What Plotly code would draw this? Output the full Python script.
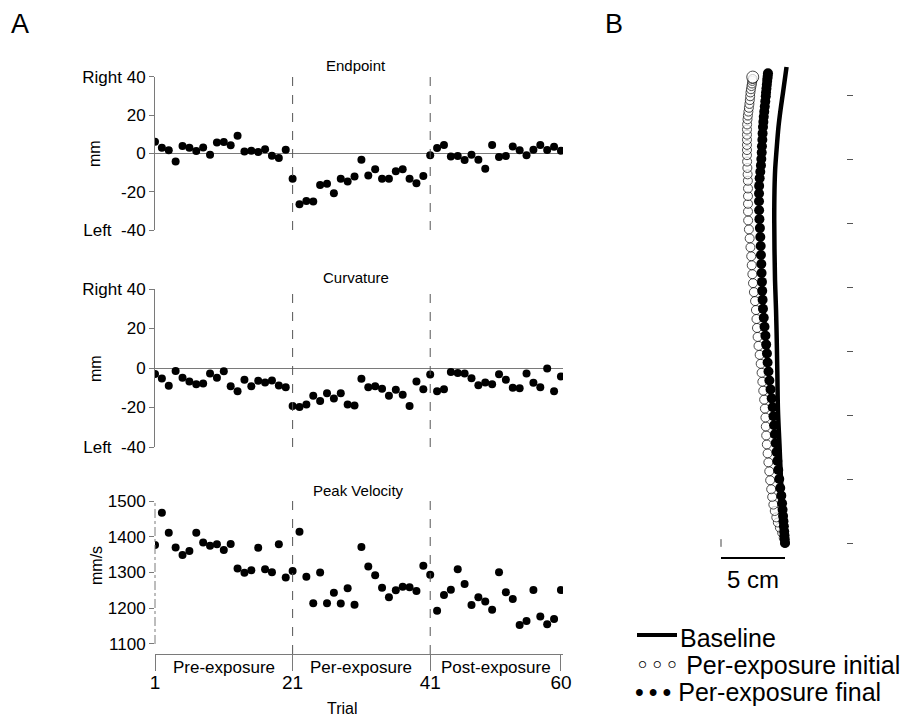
import plotly.graph_objects as go

# ---------------- data ----------------
trials = list(range(1, 61))
phase_boundaries = [21, 41]
phase_labels = ["Pre-exposure", "Per-exposure", "Post-exposure"]
phase_ticks = [1, 21, 41, 60]

endpoint_mm = [6.1, 2.9, 1.6, -4.2, 3.8, 2.9, 1.2, 3.1, -0.7, 5.7,
               5.9, 4.2, 9.2, 1.0, 1.4, 0.7, 2.1, -1.2, -2.4, 1.9,
               -13.2, -26.5, -24.9, -25.1, -16.5, -15.8, -20.8, -13.3, -14.7, -12.1,
               -3.3, -11.6, -8.3, -13.2, -13.2, -9.4, -8.3, -13.2, -15.6, -11.8,
               -1.0, 2.8, 4.3, -1.6, -1.4, -3.5, -0.7, -3.3, -8.1, 4.3,
               -1.9, -1.4, 3.6, 1.6, -1.0, 1.9, 4.3, 1.7, 3.5, 1.4]

curvature_mm = [-3.0, -5.3, -9.0, -1.5, -5.0, -6.8, -8.2, -7.8, -2.8, -5.0,
                -1.7, -9.3, -11.8, -6.0, -9.2, -6.5, -7.3, -6.3, -8.8, -9.8,
                -19.3, -19.7, -18.5, -14.0, -16.7, -12.8, -15.5, -12.8, -18.5, -19.0,
                -5.5, -9.8, -9.2, -10.5, -14.0, -11.0, -13.5, -19.3, -6.8, -10.8,
                -3.3, -11.8, -10.7, -2.0, -2.5, -2.8, -5.2, -8.7, -7.3, -8.2,
                -3.2, -6.0, -10.0, -10.3, -2.8, -7.5, -9.8, -0.2, -11.8, -4.3]

peak_velocity = [1377, 1467, 1411, 1370, 1349, 1360, 1411, 1384, 1375, 1379,
                 1363, 1380, 1311, 1299, 1306, 1369, 1309, 1301, 1379, 1286,
                 1304, 1414, 1288, 1214, 1300, 1214, 1243, 1213, 1256, 1210,
                 1371, 1317, 1292, 1257, 1231, 1250, 1260, 1259, 1248, 1319,
                 1294, 1193, 1237, 1252, 1309, 1268, 1209, 1231, 1219, 1196,
                 1301, 1245, 1226, 1153, 1164, 1251, 1177, 1155, 1170, 1251]

lat_ticks = [40, 20, 0, -20, -40]
lat_ticktext = ["Right 40", "20", "0", "-20", "Left\u00a0\u00a0-40"]
vel_ticks = [1100, 1200, 1300, 1400, 1500]

# Panel B trajectories (cm; x lateral, y forward from start)
baseline_x = [0.00, -0.16, -0.31, -0.43, -0.55, -0.59, -0.63, -0.70, -0.78, -0.82,
              -0.84, -0.82, -0.77, -0.66, -0.51, -0.35, -0.16, 0.12]
baseline_y = [0.0, 2.58, 4.92, 7.66, 10.39, 12.73, 15.08, 18.2, 20.55, 22.89,
              25.23, 27.58, 29.14, 30.7, 32.5, 33.83, 35.16, 37.19]

initial_y = [0.0, 0.4, 0.8, 1.2, 1.6, 2.0, 2.5, 3.0, 3.6, 4.2, 4.9, 5.6, 6.3, 7.0, 7.7,
             8.4, 9.1, 9.8, 10.5, 11.2, 11.9, 12.6, 13.3, 14.0, 14.7, 15.4, 16.1, 16.8,
             17.5, 18.2, 18.9, 19.6, 20.3, 21.0, 21.7, 22.4, 23.1, 23.8, 24.5, 25.2,
             25.9, 26.5, 27.1, 27.7, 28.3, 28.8, 29.3, 29.8, 30.3, 30.7, 31.1, 31.5,
             31.9, 32.3, 32.7, 33.1, 33.4, 33.7, 34.0, 34.3, 34.6, 34.9, 35.2, 35.45,
             35.7, 35.9, 36.1, 36.25, 36.4]
initial_x = [0.00, -0.10, -0.22, -0.40, -0.56, -0.68, -0.80, -0.91, -1.00, -1.08, -1.16,
             -1.23, -1.30, -1.36, -1.42, -1.47, -1.50, -1.53, -1.57, -1.63, -1.70, -1.77,
             -1.83, -1.90, -1.98, -2.07, -2.14, -2.19, -2.23, -2.27, -2.34, -2.43, -2.50,
             -2.55, -2.60, -2.64, -2.70, -2.76, -2.82, -2.88, -2.89, -2.89, -2.89, -2.89,
             -2.90, -2.92, -2.94, -2.96, -2.97, -2.97, -2.97, -2.97, -2.97, -2.97, -2.96,
             -2.93, -2.90, -2.86, -2.82, -2.78, -2.75, -2.72, -2.70, -2.66, -2.62, -2.58,
             -2.55, -2.53, -2.52]

final_y = [0.0, 0.3, 0.6, 0.9, 1.3, 1.7, 2.1, 2.6, 3.1, 3.7, 4.3, 5.0, 5.7, 6.4, 7.1,
           7.8, 8.5, 9.2, 9.9, 10.6, 11.3, 12.0, 12.7, 13.4, 14.1, 14.8, 15.5, 16.2,
           16.9, 17.6, 18.3, 19.0, 19.7, 20.4, 21.1, 21.8, 22.5, 23.2, 23.9, 24.6,
           25.3, 26.0, 26.7, 27.3, 27.9, 28.5, 29.0, 29.5, 30.0, 30.5, 31.0, 31.5,
           32.0, 32.5, 32.9, 33.3, 33.7, 34.1, 34.5, 34.9, 35.2, 35.5, 35.8, 36.1,
           36.3, 36.5, 36.7]
final_x = [0.00, -0.02, -0.04, -0.06, -0.09, -0.12, -0.15, -0.19, -0.23, -0.29, -0.37,
           -0.45, -0.53, -0.60, -0.66, -0.72, -0.79, -0.85, -0.90, -0.96, -1.04, -1.13,
           -1.22, -1.29, -1.36, -1.41, -1.47, -1.53, -1.60, -1.66, -1.72, -1.75, -1.78,
           -1.80, -1.83, -1.85, -1.88, -1.90, -1.93, -1.96, -2.00, -2.02, -2.03, -2.03,
           -2.02, -1.98, -1.93, -1.88, -1.85, -1.82, -1.80, -1.77, -1.75, -1.72, -1.69,
           -1.66, -1.62, -1.58, -1.54, -1.50, -1.48, -1.45, -1.42, -1.39, -1.37, -1.35,
           -1.33]

scale_bar_cm = 5
forward_ticks_cm = [0, 5, 10, 15, 20, 25, 30, 35]
legend_labels = ["Baseline", "Per-exposure initial", "Per-exposure final"]

# ---------------- figure ----------------
W, H = 915, 719
FONT = "Arial, Liberation Sans, sans-serif"
GRAY = "#7a7a7a"

def px_x(p):
    return p / W

def px_y(p):
    return 1 - p / H

fig = go.Figure()

dot = dict(color="black", size=8)
fig.add_trace(go.Scatter(x=trials, y=endpoint_mm, mode="markers", marker=dot,
                         xaxis="x", yaxis="y", showlegend=False))
fig.add_trace(go.Scatter(x=trials, y=curvature_mm, mode="markers", marker=dot,
                         xaxis="x2", yaxis="y2", showlegend=False))
fig.add_trace(go.Scatter(x=trials, y=peak_velocity, mode="markers", marker=dot,
                         xaxis="x3", yaxis="y3", showlegend=False))

# Panel B
fig.add_trace(go.Scatter(x=baseline_x, y=baseline_y, mode="lines",
                         line=dict(color="black", width=4.5, shape="spline"),
                         name=legend_labels[0], xaxis="x4", yaxis="y4", showlegend=False))
init_sizes = [9] * (len(initial_x) - 1) + [12]
fig.add_trace(go.Scatter(x=initial_x, y=initial_y, mode="markers",
                         marker=dict(color="white", size=init_sizes,
                                     line=dict(color="black", width=1)),
                         name=legend_labels[1], xaxis="x4", yaxis="y4", showlegend=False))
fig.add_trace(go.Scatter(x=final_x, y=final_y, mode="markers",
                         marker=dict(color="black", size=10, line=dict(width=0)),
                         name=legend_labels[2], xaxis="x4", yaxis="y4", showlegend=False))

xdomA = [px_x(155), px_x(563)]
xrange_A = [1, 60.3]
tickfont = dict(family=FONT, size=17, color="black")

common_x = dict(domain=xdomA, range=xrange_A, showgrid=False, zeroline=False,
                showline=False, showticklabels=False, ticks="")
lat_y = dict(range=[-40, 40], tickvals=lat_ticks, ticktext=lat_ticktext,
             showgrid=False, zeroline=True, zerolinecolor=GRAY, zerolinewidth=1,
             showline=True, linecolor=GRAY, linewidth=1, ticks="outside",
             ticklen=5, tickcolor=GRAY, tickfont=tickfont, automargin=False)

fig.update_layout(
    width=W, height=H, autosize=False,
    margin=dict(l=0, r=0, t=0, b=0, pad=0, autoexpand=False),
    paper_bgcolor="white", plot_bgcolor="rgba(0,0,0,0)",
    font=dict(family=FONT, color="black"),
    showlegend=False,
    xaxis=dict(**common_x, anchor="y"),
    yaxis=dict(**lat_y, domain=[px_y(230), px_y(76.7)], anchor="x"),
    xaxis2=dict(**common_x, anchor="y2"),
    yaxis2=dict(**lat_y, domain=[px_y(447), px_y(289)], anchor="x2"),
    xaxis3=dict(domain=xdomA, range=xrange_A, anchor="y3", showgrid=False,
                zeroline=False, showline=True, linecolor=GRAY, linewidth=1,
                tickvals=phase_ticks, ticks="outside", ticklen=16, automargin=False,
                ticklabelstandoff=-5,
                tickcolor=GRAY, tickfont=dict(family=FONT, size=19, color="black")),
    yaxis3=dict(domain=[px_y(654), px_y(501)], range=[1072, 1500], anchor="x3",
                tickvals=vel_ticks, showgrid=False, zeroline=False, showline=False,
                ticks="outside", ticklen=5, tickcolor=GRAY, tickfont=tickfont,
                automargin=False),
    xaxis4=dict(domain=[px_x(708.2), px_x(861.8)], range=[-6, 6], anchor="y4",
                visible=False),
    yaxis4=dict(domain=[px_y(581.4), px_y(56.6)], range=[-3, 38], anchor="free",
                position=px_x(845.5), side="right", showgrid=False, zeroline=False,
                showline=False, tickvals=forward_ticks_cm, ticks="outside",
                ticklen=6, tickcolor="#555555", showticklabels=False, automargin=False),
)

shapes = []
# phase boundary dashed lines
for xa, ya in [("x", "y"), ("x2", "y2"), ("x3", "y3")]:
    for b in phase_boundaries:
        shapes.append(dict(type="line", xref=xa, yref=ya + " domain",
                           x0=b, x1=b, y0=0, y1=1,
                           line=dict(color="#555555", width=1, dash="dash")))
# velocity y axis line (dash-dot)
shapes.append(dict(type="line", xref="x3 domain", yref="y3", x0=0, x1=0,
                   y0=vel_ticks[0], y1=vel_ticks[-1],
                   line=dict(color=GRAY, width=1, dash="dashdot")))
# scale bar
shapes.append(dict(type="line", xref="x4", yref="y4", x0=-scale_bar_cm, x1=0,
                   y0=-1.17, y1=-1.17, line=dict(color="black", width=2)))
shapes.append(dict(type="line", xref="x4", yref="y4", x0=-scale_bar_cm, x1=-scale_bar_cm,
                   y0=-0.3, y1=0.3, line=dict(color="#444444", width=1)))
# legend key for the baseline line
shapes.append(dict(type="line", xref="paper", yref="paper",
                   x0=px_x(637), x1=px_x(677), y0=px_y(635), y1=px_y(635),
                   line=dict(color="black", width=4)))
fig.update_layout(shapes=shapes)

ann = []
def text(x, y, s, size, xref="paper", yref="paper", xanchor="center",
         yanchor="middle", **kw):
    ann.append(dict(x=x, y=y, text=s, xref=xref, yref=yref, showarrow=False,
                    xanchor=xanchor, yanchor=yanchor,
                    font=dict(family=FONT, size=size, color="black"), **kw))

text(px_x(20), px_y(24), "A", 27)
text(px_x(614), px_y(24), "B", 27)
text(px_x(356), px_y(66), "Endpoint", 15)
text(px_x(356), px_y(277), "Curvature", 15)
text(px_x(358), px_y(490), "Peak Velocity", 15)
text(px_x(95), px_y(154), "mm", 16, textangle=-90)
text(px_x(95), px_y(369), "mm", 16, textangle=-90)
text(px_x(96), px_y(566), "mm/s", 16, textangle=-90)
bounds = phase_ticks
for i, lab in enumerate(phase_labels):
    text((bounds[i] + bounds[i + 1]) / 2, px_y(667), lab, 17, xref="x3")
text(px_x(342), px_y(708), "Trial", 16)
text(-scale_bar_cm / 2, -2.85, "5 cm", 24, xref="x4", yref="y4")

# legend (keys + labels)
text(px_x(678), px_y(638), legend_labels[0], 25, xanchor="left")
text(px_x(633), px_y(665),
     "<span style='font-family:DejaVu Sans'>\u25e6\u25e6\u25e6</span> " + legend_labels[1],
     25, xanchor="left")
text(px_x(633), px_y(692),
     "\u2022\u2009\u2022\u2009\u2022 " + legend_labels[2], 25, xanchor="left")
fig.update_layout(annotations=ann)

fig.write_html("out.html", config={"displayModeBar": False},
               post_script="document.body.style.margin='0';")
